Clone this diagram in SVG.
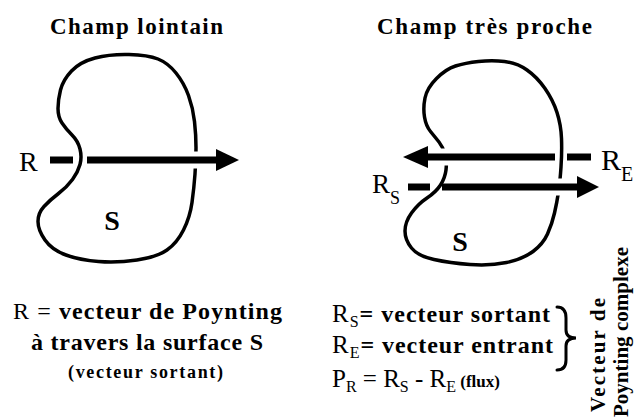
<svg xmlns="http://www.w3.org/2000/svg" width="637" height="419" viewBox="0 0 637 419">
<style>
text{font-family:'Liberation Serif',serif;fill:#000}
.b{font-weight:700;font-family:'Liberation Serif',serif}
.blob{fill:none;stroke:#000;stroke-width:3.5;stroke-linejoin:round}
.shaft{stroke:#000;stroke-width:7;fill:none}
.halo{stroke:#fff;stroke-width:17;fill:none}
.head{fill:#000}
.brace{fill:none;stroke:#000;stroke-width:3;stroke-linecap:round}
</style>
<rect width="637" height="419" fill="#fff"/>
<g id="far-field">
<text class="b" x="50" y="34" font-size="23" textLength="173" lengthAdjust="spacing">Champ lointain</text>
<path id="surface-left" class="blob" d="M71.5,71 Q80,62 95,58 Q110,54 129,54.5 Q148,55 158,59 Q168,63 176,73 Q184,83 188.5,95.5 Q193,108 194.5,121.5 Q196,135 196,147.5 Q196,160 195,174 Q194,188 192,202.5 Q190,217 183.5,230 Q177,243 167,250 Q157,257 137,260 Q117,263 98.5,261.5 Q80,260 66,255 Q52,250 45,240 Q38,230 38,221.5 Q38,213 44,206.5 Q50,200 58.5,193.5 Q67,187 72.5,179.5 Q78,172 80,164.5 Q82,157 80,149 Q78,141 72,135 Q66,129 62,123 Q58,117 58,108.5 Q58,100 60.5,90 Q63,80 71.5,71 Z"/>
<text class="b" x="112" y="230" font-size="28" text-anchor="middle">S</text>
<text x="19" y="171" font-size="28">R</text>
</g>
<g id="near-field">
<text class="b" x="377" y="34" font-size="23" textLength="215" lengthAdjust="spacing">Champ très proche</text>
<path id="surface-right" class="blob" d="M436.5,78.5 Q446,69 455.5,66 Q465,63 478.5,61.5 Q492,60 504.5,61.5 Q517,63 527,70 Q537,77 545,88.5 Q553,100 557,112.5 Q561,125 561.5,138.5 Q562,152 561,167 Q560,182 558.5,192 Q557,202 554.5,213 Q552,224 547.5,234 Q543,244 533,251.5 Q523,259 506.5,262.5 Q490,266 470,264.5 Q450,263 434,259.5 Q418,256 411.5,248 Q405,240 405,231 Q405,222 411.5,213 Q418,204 427,198 Q436,192 440.5,185 Q445,178 446,170 Q447,162 445,154.5 Q443,147 439,142 Q435,137 430.5,131.5 Q426,126 424.5,117 Q423,108 425,98 Q427,88 436.5,78.5 Z"/>
<text class="b" x="460" y="251" font-size="28" text-anchor="middle">S</text>
<text x="372" y="193" font-size="27">R<tspan font-size="18" dy="11">S</tspan></text>
<text x="601" y="170" font-size="30">R<tspan font-size="20" dy="11">E</tspan></text>
</g>
<g id="connectors">
<line class="shaft" x1="50" y1="160" x2="73" y2="160"/>
<line class="halo" x1="186" y1="160" x2="206" y2="160"/>
<line class="shaft" x1="87" y1="160" x2="218" y2="160"/>
<polygon class="head" points="216,149 239,160 216,171"/>
<line class="halo" x1="437" y1="157" x2="454" y2="157"/>
<line class="shaft" x1="425" y1="157" x2="555" y2="157"/>
<line class="shaft" x1="567" y1="157" x2="591" y2="157"/>
<polygon class="head" points="428,146 403,157 428,168"/>
<line class="shaft" x1="408" y1="187" x2="430" y2="187"/>
<line class="halo" x1="550" y1="187" x2="568" y2="187"/>
<line class="shaft" x1="442" y1="187" x2="579" y2="187"/>
<polygon class="head" points="577,176 599,187 577,198"/>
</g>
<g id="legend-left">
<text x="13" y="319" font-size="24" textLength="269" lengthAdjust="spacing">R =<tspan class="b"> vecteur de Poynting</tspan></text>
<text class="b" x="31" y="350" font-size="24" textLength="232" lengthAdjust="spacing">à travers la surface S</text>
<text class="b" x="68" y="378" font-size="18" textLength="155" lengthAdjust="spacing">(vecteur sortant)</text>
</g>
<g id="legend-right">
<text x="332" y="322" font-size="25" textLength="218" lengthAdjust="spacing">R<tspan font-size="16" dy="5">S</tspan><tspan class="b" font-size="24" dy="-5">= vecteur sortant</tspan></text>
<text x="332" y="353" font-size="25" textLength="221" lengthAdjust="spacing">R<tspan font-size="16" dy="5">E</tspan><tspan class="b" font-size="24" dy="-5">= vecteur entrant</tspan></text>
<text x="332" y="387" font-size="25">P<tspan font-size="16" dy="5">R</tspan><tspan dy="-5"> = R</tspan><tspan font-size="16" dy="5">S</tspan><tspan dy="-5"> - R</tspan><tspan font-size="16" dy="5">E</tspan><tspan class="b" font-size="17" dy="-5"> (flux)</tspan></text>
<path class="brace" d="M557,307 Q566,307 566,318 L566,330 Q566,338 576,338 Q566,338 566,346 L566,360 Q566,370 557,370"/>
<text class="b" font-size="21" transform="translate(605,412) rotate(-90)" textLength="114" lengthAdjust="spacing">Vecteur de</text>
<text class="b" font-size="21" transform="translate(628,417) rotate(-90)" textLength="170" lengthAdjust="spacing">Poynting complexe</text>
</g>
</svg>
